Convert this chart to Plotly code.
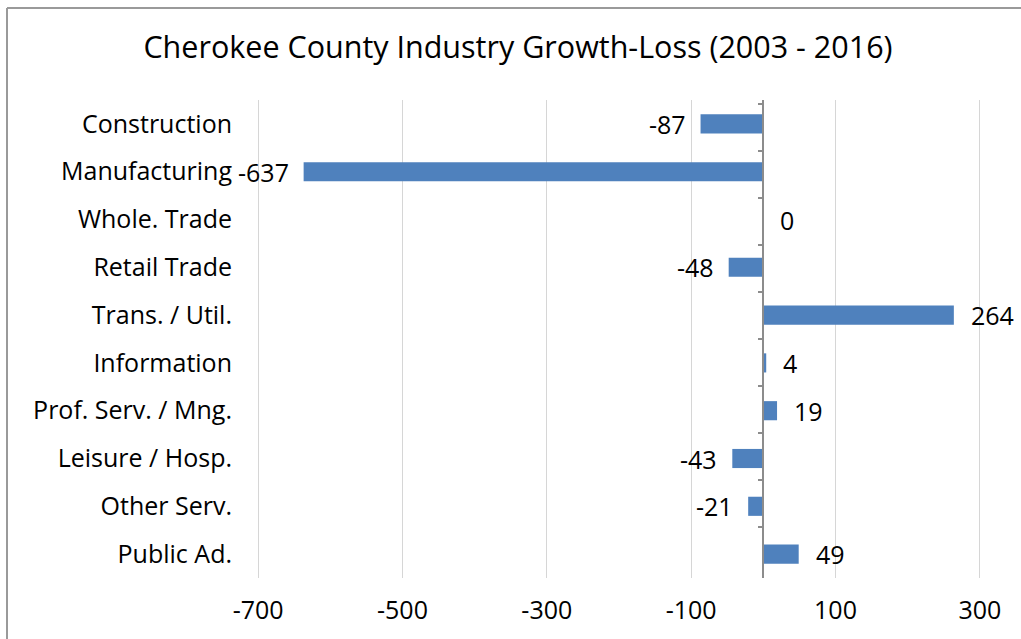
import plotly.graph_objects as go

categories = ["Construction", "Manufacturing", "Whole. Trade", "Retail Trade",
              "Trans. / Util.", "Information", "Prof. Serv. / Mng.",
              "Leisure / Hosp.", "Other Serv.", "Public Ad."]
values = [-87, -637, 0, -48, 264, 4, 19, -43, -21, 49]
x_ticks = [-700, -500, -300, -100, 100, 300]
x_min, x_max = -703, 303

FONT = "Open Sans"
BAR = "#4f81bd"

ML, MR, MT, MB = 256, 39, 100, 61
W, H = 1021, 639
PW, PH = W - ML - MR, H - MT - MB

fig = go.Figure()
fig.add_trace(go.Bar(x=values, y=categories, orientation="h",
                     marker=dict(color=BAR, line=dict(width=0)),
                     hoverinfo="x+y", showlegend=False))
# invisible trace carrying the zero-position category axis with boundary ticks
fig.add_trace(go.Scatter(x=[0] * len(categories), y=categories, yaxis="y2",
                         mode="markers", marker=dict(opacity=0),
                         showlegend=False, hoverinfo="skip"))

for c, v in zip(categories, values):
    fig.add_annotation(x=v, y=c, text=str(v), showarrow=False,
                       xanchor="right" if v < 0 else "left",
                       xshift=-13 if v < 0 else 15,
                       font=dict(family=FONT, size=25, color="#000000"))

zero_pos = (0 - x_min) / (x_max - x_min)

fig.update_layout(
    width=W, height=H,
    margin=dict(l=ML, r=MR, t=MT, b=MB),
    paper_bgcolor="white", plot_bgcolor="white",
    title=dict(text="Cherokee County Industry Growth-Loss (2003 - 2016)",
               x=518 / W, xanchor="center", y=1 - 47 / H, yanchor="middle",
               font=dict(family=FONT, size=30.5, color="#000000")),
    bargap=0.6,
    xaxis=dict(range=[x_min, x_max], tickvals=x_ticks,
               ticktext=[str(t) for t in x_ticks],
               showgrid=True, gridcolor="#d6d6d6", gridwidth=1.3,
               zeroline=False, showline=False,
               ticks="outside", ticklen=10, tickcolor="rgba(0,0,0,0)",
               tickfont=dict(family=FONT, size=25, color="#000000")),
    yaxis=dict(categoryorder="array", categoryarray=categories,
               autorange="reversed", showgrid=False, zeroline=False,
               showline=False, ticks="outside", ticklen=18,
               tickcolor="rgba(0,0,0,0)",
               tickfont=dict(family=FONT, size=25, color="#000000")),
    yaxis2=dict(overlaying="y", anchor="free", position=zero_pos, side="left",
                categoryorder="array", categoryarray=categories,
                autorange="reversed", showgrid=False, zeroline=False,
                showline=True, linecolor="#8c8c8c", linewidth=1.5,
                ticks="outside", tickson="boundaries", ticklen=5,
                tickcolor="#8c8c8c", tickwidth=1.5, showticklabels=False),
    shapes=[
        dict(type="line", xref="paper", yref="paper",
             x0=(7 - ML) / PW, x1=(7 - ML) / PW,
             y0=(H - MB - 8) / PH, y1=(H - MB - 700) / PH,
             line=dict(color="#9a9a9a", width=2)),
        dict(type="line", xref="paper", yref="paper",
             x0=(7 - ML) / PW, x1=(1100 - ML) / PW,
             y0=(H - MB - 8) / PH, y1=(H - MB - 8) / PH,
             line=dict(color="#9a9a9a", width=2)),
    ],
)

fig.write_html("out.html",
               config={"displayModeBar": False},
               post_script="document.body.style.margin='0';"
                           "document.body.style.overflow='hidden';")
